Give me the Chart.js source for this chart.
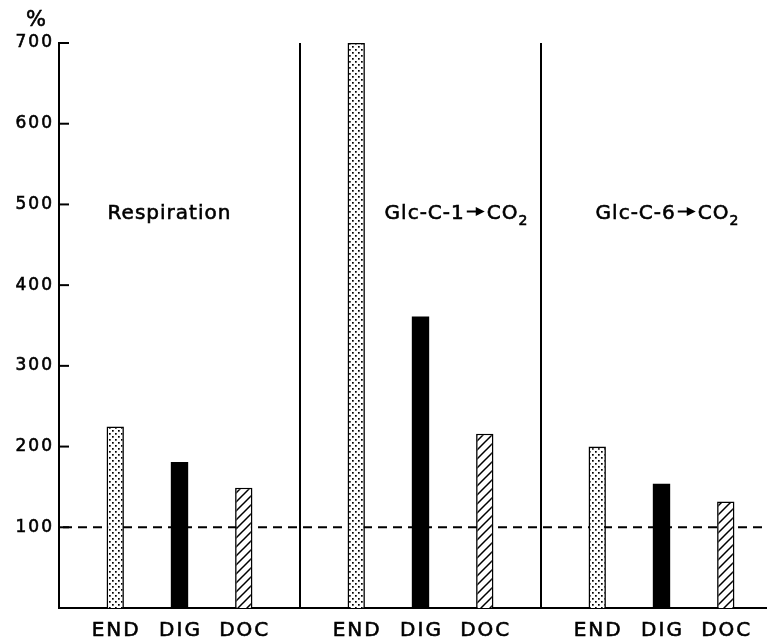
<!DOCTYPE html>
<html>
<head>
<meta charset="utf-8">
<script src="https://cdn.jsdelivr.net/npm/chart.js@4.4.1/dist/chart.umd.min.js"></script>
<style>
  html, body { margin: 0; padding: 0; background: #fff; overflow: hidden; }
  #wrap { width: 790px; height: 641px; }
</style>
</head>
<body>
<div id="wrap"><canvas id="chart"></canvas></div>
<script>
// -----------------------------
// Data
// -----------------------------
const groups = ["Respiration", "Glc-C-1→CO₂", "Glc-C-6→CO₂"];
const series = ["END", "DIG", "DOC"];
const endValues = [225, 700, 200];
const digValues = [181, 361, 154];
const docValues = [149, 216, 132];
const yTicks = [100, 200, 300, 400, 500, 600, 700];
const controlLevel = 100;

// -----------------------------
// Fill patterns
// -----------------------------
function dotPattern() {
  const c = document.createElement("canvas");
  c.width = 6; c.height = 6;
  const g = c.getContext("2d");
  g.fillStyle = "#fff";
  g.fillRect(0, 0, 6, 6);
  g.fillStyle = "#000";
  g.fillRect(1, 1, 1.7, 1.7);
  g.fillRect(4, 4, 1.7, 1.7);
  return g.createPattern(c, "repeat");
}

function hatchPattern() {
  const s = 9;
  const c = document.createElement("canvas");
  c.width = s; c.height = s;
  const g = c.getContext("2d");
  g.fillStyle = "#fff";
  g.fillRect(0, 0, s, s);
  g.strokeStyle = "#000";
  g.lineWidth = 1.5;
  g.beginPath();
  g.moveTo(-1, s + 1); g.lineTo(s + 1, -1);
  g.moveTo(-1, 1); g.lineTo(1, -1);
  g.moveTo(s - 1, s + 1); g.lineTo(s + 1, s - 1);
  g.stroke();
  return g.createPattern(c, "repeat");
}

// -----------------------------
// Text helpers
// -----------------------------
const FONT = "'DejaVu Sans'";

// fill + thin stroke, to get the heavier print look
function heavyText(ctx, s, x, y) {
  ctx.fillText(s, x, y);
  ctx.lineWidth = 0.6;
  ctx.strokeText(s, x, y);
}

function titlePieces(text) {
  const out = [];
  let run = "";
  for (const ch of text) {
    if (ch === "→" || ch === "₂") {
      if (run) out.push({ kind: "text", s: run });
      run = "";
      out.push(ch === "→" ? { kind: "arrow" } : { kind: "sub", s: "2" });
    } else run += ch;
  }
  if (run) out.push({ kind: "text", s: run });
  return out;
}

function drawTitle(ctx, text, cx, baseY) {
  const pieces = titlePieces(text);
  ctx.letterSpacing = "1px";
  let total = 0;
  pieces.forEach(p => {
    if (p.kind === "arrow") p.w = 22;
    else {
      ctx.font = (p.kind === "sub" ? "14px " : "20px ") + FONT;
      p.w = ctx.measureText(p.s).width;
    }
    total += p.w;
  });
  let x = cx - total / 2;
  ctx.textAlign = "left";
  ctx.textBaseline = "alphabetic";
  pieces.forEach(p => {
    if (p.kind === "arrow") {
      const y = baseY - 7.5;
      ctx.lineWidth = 2;
      ctx.beginPath();
      ctx.moveTo(x + 2, y); ctx.lineTo(x + 13, y);
      ctx.stroke();
      ctx.beginPath();
      ctx.moveTo(x + 11, y - 4.5); ctx.lineTo(x + 20, y); ctx.lineTo(x + 11, y + 4.5);
      ctx.closePath();
      ctx.fill();
    } else if (p.kind === "sub") {
      ctx.font = "14px " + FONT;
      heavyText(ctx, p.s, x, baseY + 6);
    } else {
      ctx.font = "20px " + FONT;
      heavyText(ctx, p.s, x, baseY);
    }
    x += p.w;
  });
}

// -----------------------------
// Plugin: reference line, ticks, labels
// -----------------------------
const titleShift = [-10, 36, 6];

const decorations = {
  id: "decorations",
  beforeDraw(chart) {
    // wider tick lettering like the original print
    chart.ctx.letterSpacing = "2px";
  },
  beforeDatasetsDraw(chart) {
    const { ctx, chartArea, scales: { y } } = chart;
    const py = y.getPixelForValue(controlLevel);
    ctx.save();
    ctx.strokeStyle = "#000";
    ctx.lineWidth = 2;
    ctx.setLineDash([9, 6]);
    ctx.beginPath();
    ctx.moveTo(chartArea.left + 4, py);
    ctx.lineTo(chartArea.right, py);
    ctx.stroke();
    ctx.restore();
  },
  afterDraw(chart) {
    const { ctx, chartArea, scales: { x, y } } = chart;
    ctx.save();
    ctx.fillStyle = "#000";
    ctx.strokeStyle = "#000";

    // inward tick marks
    ctx.lineWidth = 2;
    yTicks.forEach(v => {
      const py = y.getPixelForValue(v);
      ctx.beginPath();
      ctx.moveTo(chartArea.left - 1, py);
      ctx.lineTo(chartArea.left + 10, py);
      ctx.stroke();
    });

    // unit
    ctx.letterSpacing = "0px";
    ctx.font = "21px " + FONT;
    ctx.textAlign = "center";
    ctx.textBaseline = "alphabetic";
    heavyText(ctx, "%", 36, 26);

    // panel titles
    groups.forEach((g, i) => {
      drawTitle(ctx, g, x.getPixelForValue(i) + titleShift[i], 219);
    });

    // bar labels under the axis
    ctx.letterSpacing = "2px";
    ctx.font = "20px " + FONT;
    ctx.textAlign = "center";
    ctx.textBaseline = "alphabetic";
    chart.data.datasets.forEach((ds, d) => {
      chart.getDatasetMeta(d).data.forEach(bar => {
        heavyText(ctx, series[d], bar.x + 1, 636);
      });
    });
    ctx.restore();
  }
};

// -----------------------------
// Chart
// -----------------------------
Chart.defaults.font.family = FONT;
Chart.defaults.color = "#000";

new Chart(document.getElementById("chart"), {
  type: "bar",
  data: {
    labels: groups,
    datasets: [
      { label: series[0], data: endValues, backgroundColor: dotPattern(), borderColor: "#000", borderWidth: 1.6 },
      { label: series[1], data: digValues, backgroundColor: "#000", borderColor: "#000", borderWidth: 0 },
      { label: series[2], data: docValues, backgroundColor: hatchPattern(), borderColor: "#000", borderWidth: 1.6 }
    ]
  },
  options: {
    responsive: true,
    maintainAspectRatio: false,
    animation: false,
    layout: { padding: { top: 43, right: 8, left: 0, bottom: 0 } },
    datasets: { bar: { categoryPercentage: 0.8, barPercentage: 0.27 } },
    plugins: { legend: { display: false }, tooltip: { enabled: false } },
    scales: {
      x: {
        offset: true,
        grid: { display: true, offset: true, color: "#000", lineWidth: 2, drawTicks: false },
        border: { display: true, color: "#000", width: 2 },
        ticks: { display: false },
        afterFit(scale) { scale.height = 33; }
      },
      y: {
        min: 0,
        max: 700,
        grid: { display: false, drawTicks: false },
        border: { display: true, color: "#000", width: 2 },
        ticks: {
          stepSize: 100,
          padding: 5,
          font: { size: 17 },
          color: "#000",
          textStrokeColor: "#000",
          textStrokeWidth: 0.6,
          callback: v => (v === 0 ? "" : v)
        },
        afterFit(scale) { scale.width = 59; }
      }
    }
  },
  plugins: [decorations]
});
</script>
</body>
</html>
